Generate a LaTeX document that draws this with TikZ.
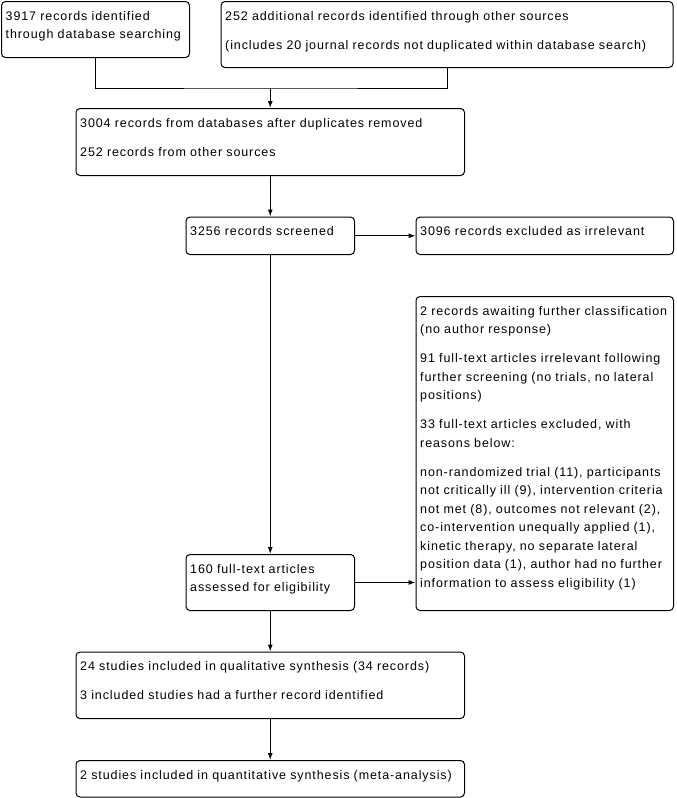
\documentclass[tikz,border=0pt]{standalone}
\usepackage{fontspec}
\setmainfont{Liberation Sans}[LetterSpace=7.2]
\usetikzlibrary{arrows.meta}
\begin{document}
\begin{tikzpicture}[x=1pt,y=-1pt,
  box/.style={draw=black, line width=1pt, rounded corners=4pt, anchor=north west, inner sep=0pt},
  txt/.style={anchor=base west, inner sep=0pt, text width=470pt, align=left, font=\fontsize{12.5}{18.5}\selectfont},
  link/.style={line width=1pt},
  arr/.style={line width=1pt, -{Latex[length=7pt,width=5pt]}}]
\useasboundingbox (0,0) rectangle (677,798);
% boxes
\node[box, minimum width=188pt, minimum height=56pt] (A) at (1,1) {};
\node[box, minimum width=452pt, minimum height=66pt] (B) at (220.5,1) {};
\node[box, minimum width=388.5pt, minimum height=67pt] (C) at (75.5,108) {};
\node[box, minimum width=168.5pt, minimum height=37.5pt] (D) at (185.5,216.5) {};
\node[box, minimum width=257.5pt, minimum height=37.5pt] (E) at (415.5,216.5) {};
\node[box, minimum width=257.5pt, minimum height=314pt] (G) at (415.5,296) {};
\node[box, minimum width=168.5pt, minimum height=56pt] (F) at (185.5,554) {};
\node[box, minimum width=388.5pt, minimum height=66.5pt] (H) at (75.5,651.5) {};
\node[box, minimum width=388.5pt, minimum height=36.5pt] (I) at (75.5,760) {};
% texts
\node[txt] (At) at (5.5,20) {3917 records identified\\through database searching};
\node[txt] (Bt) at (225,20) {252 additional records identified through other sources\\[10.5pt](includes 20 journal records not duplicated within database search)};
\node[txt] (Ct) at (80,127.5) {3004 records from databases after duplicates removed\\[10.5pt]252 records from other sources};
\node[txt] (Dt) at (190,235.5) {3256 records screened};
\node[txt] (Et) at (420,235.5) {3096 records excluded as irrelevant};
\node[txt] (Gt) at (420,315) {2 records awaiting further classification\\(no author response)\\[10.5pt]91 full-text articles irrelevant following\\further screening (no trials, no lateral\\positions)\\[10.5pt]33 full-text articles excluded, with\\reasons below:\\[10.5pt]non-randomized trial (11), participants\\not critically ill (9), intervention criteria\\not met (8), outcomes not relevant (2),\\co-intervention unequally applied (1),\\kinetic therapy, no separate lateral\\position data (1), author had no further\\information to assess eligibility (1)};
\node[txt] (Ft) at (190,573) {160 full-text articles\\assessed for eligibility};
\node[txt] (Ht) at (80,670.5) {24 studies included in qualitative synthesis (34 records)\\[10.5pt]3 included studies had a further record identified};
\node[txt] (It) at (80,779) {2 studies included in quantitative synthesis (meta-analysis)};
% connectors
\coordinate (lvl) at (0,88);
\coordinate (J) at (C.north |- lvl);
\draw[link] (A.south) |- (J) -| (B.south);
\draw[arr] (J) -- (C.north);
\draw[arr] (C.south) -- (D.north);
\draw[arr] (D.east) -- (E.west);
\draw[arr] (D.south) -- (F.north);
\draw[arr] (F.east) -- (F.east -| G.west);
\draw[arr] (F.south) -- (H.north);
\draw[arr] (H.south) -- (I.north);
\end{tikzpicture}
\end{document}
